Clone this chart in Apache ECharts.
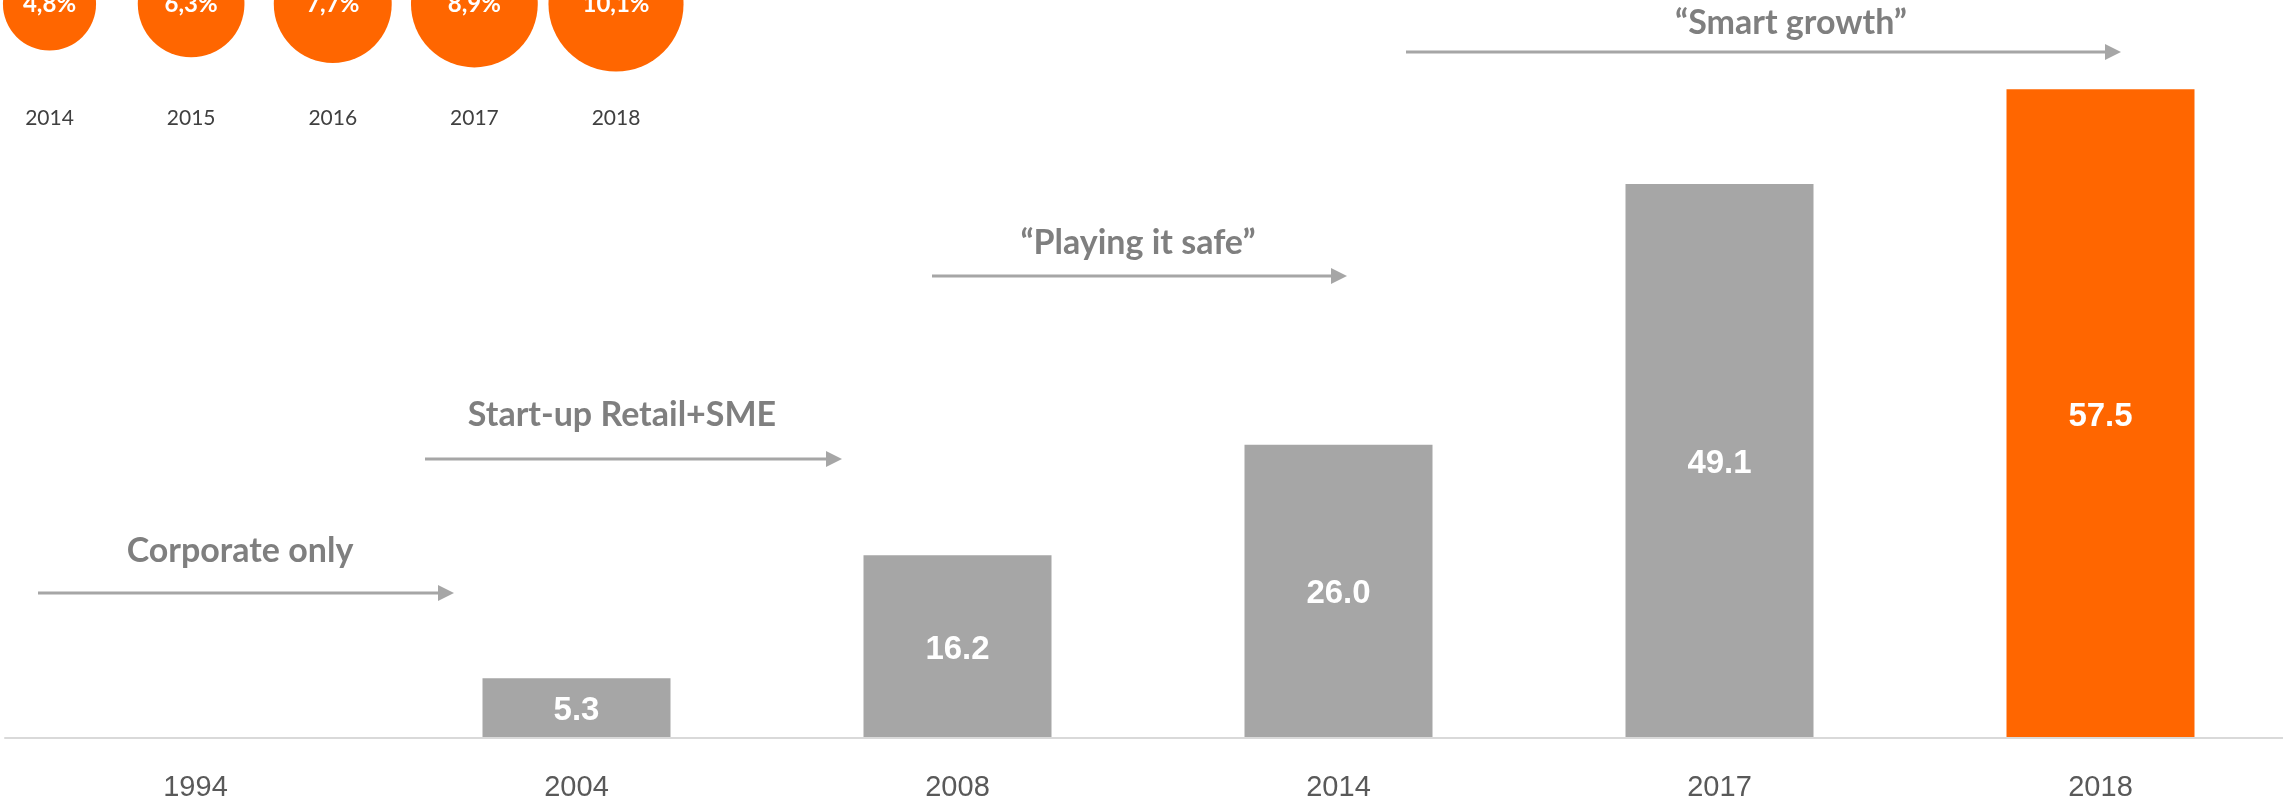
<!DOCTYPE html>
<html>
<head>
<meta charset="utf-8">
<script src="https://cdn.jsdelivr.net/npm/echarts@6/dist/echarts.min.js"></script>
<style>
  html, body { margin: 0; padding: 0; background: #fff; }
  #main { width: 2283px; height: 807px; }
</style>
</head>
<body>
<div id="main"></div>
<script>
// bar chart data (1994 has no bar)
const barYears = ['1994', '2004', '2008', '2014', '2017', '2018']
const barValues = ['-', 5.3, 16.2, 26.0, 49.1, 57.5]

// small bubbles in the top left corner
const circleYears = ['2014', '2015', '2016', '2017', '2018']
const circleValues = [4.8, 6.3, 7.7, 8.9, 10.1]

// phase annotations
const phaseLabels = ['Corporate only', 'Start-up Retail+SME', '“Playing it safe”', '“Smart growth”']

const GREY = '#a6a6a6'
const ORANGE = '#ff6600'
const TEXT_GREY = '#7f7f7f'

// arrow placement in px: [x start, x end, arrow y, text x, text y]
const phaseBoxes = [
  [38, 454, 593, 240, 551],
  [425, 842, 459, 622, 415],
  [932, 1347, 276, 1138, 243],
  [1406, 2121, 52, 1791, 23],
]

function phaseArrow(label, box) {
  const [x1, x2, y, tx, ty] = box
  return {
    type: 'group',
    children: [
      { type: 'line', shape: { x1: x1, y1: y, x2: x2 - 14, y2: y }, style: { stroke: GREY, lineWidth: 3 } },
      { type: 'polygon', shape: { points: [[x2 - 16, y - 8], [x2, y], [x2 - 16, y + 8]] }, style: { fill: GREY } },
      {
        type: 'text',
        x: tx,
        y: ty,
        style: { text: label, fill: TEXT_GREY, font: 'bold 34px Lato', align: 'center', verticalAlign: 'middle' },
      },
    ],
  }
}

const chart = echarts.init(document.getElementById('main'))
const option = {
  animation: false,
  grid: [
    { left: 5, top: 61, width: 2286, height: 677, outerBoundsMode: 'none' },
    { left: 49.5, top: 0, width: 566.5, height: 8, outerBoundsMode: 'none' },
  ],
  xAxis: [
    {
      type: 'category',
      gridIndex: 0,
      data: barYears,
      z: 3,
      axisLine: { lineStyle: { color: '#d9d9d9', width: 2 } },
      axisTick: { show: false },
      axisLabel: { color: '#595959', fontSize: 29, fontFamily: 'Liberation Sans', margin: 35 },
    },
    {
      type: 'category',
      gridIndex: 1,
      data: circleYears,
      boundaryGap: false,
      axisLine: { show: false },
      axisTick: { show: false },
      axisLabel: { color: '#404040', fontSize: 21, fontFamily: 'Lato', margin: 100 },
    },
  ],
  yAxis: [
    { type: 'value', gridIndex: 0, min: 0, max: 60, show: false },
    { type: 'value', gridIndex: 1, min: -1, max: 1, show: false },
  ],
  series: [
    {
      type: 'bar',
      xAxisIndex: 0,
      yAxisIndex: 0,
      barWidth: 188,
      data: barValues,
      itemStyle: {
        color: (p) => (p.dataIndex === barValues.length - 1 ? ORANGE : GREY),
      },
      label: {
        show: true,
        position: 'inside',
        offset: [0, 3],
        color: '#fff',
        fontSize: 33,
        fontWeight: 'bold',
        fontFamily: 'Liberation Sans',
        formatter: (p) => p.value.toFixed(1),
      },
    },
    {
      type: 'scatter',
      xAxisIndex: 1,
      yAxisIndex: 1,
      data: circleValues.map((v, i) => [circleYears[i], 0, v]),
      symbolSize: (d) => 42.5 * Math.sqrt(d[2]),
      itemStyle: { color: ORANGE, opacity: 1 },
      label: {
        show: true,
        position: 'inside',
        color: '#fff',
        fontSize: 24,
        fontWeight: 'bold',
        fontFamily: 'Lato',
        formatter: (p) => p.value[2].toFixed(1).replace('.', ',') + '%',
      },
    },
  ],
  graphic: phaseLabels.map((t, i) => phaseArrow(t, phaseBoxes[i])),
}
option && chart.setOption(option)
</script>
</body>
</html>
